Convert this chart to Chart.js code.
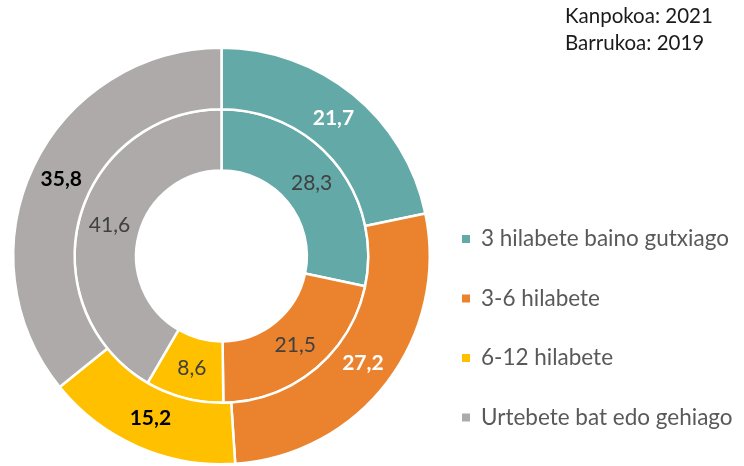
<!DOCTYPE html>
<html>
<head>
<meta charset="utf-8">
<script src="https://cdn.jsdelivr.net/npm/chart.js@4"></script>
<style>
  html, body { margin: 0; padding: 0; background: #fff; }
  #wrap { width: 744px; height: 466px; position: relative; }
</style>
</head>
<body>
<div id="wrap"><canvas id="myChart"></canvas></div>
<script>
(function () {
    "use strict";

    var categories = ['3 hilabete baino gutxiago', '3-6 hilabete', '6-12 hilabete', 'Urtebete bat edo gehiago'];
    var values2021 = [21.7, 27.2, 15.2, 35.8];   // outer ring
    var values2019 = [28.3, 21.5, 8.6, 41.6];    // inner ring
    var titleLines = ['Kanpokoa: 2021', 'Barrukoa: 2019'];

    var colors = ['#63a9a7', '#eb832e', '#ffc000', '#aeaaaa'];
    var outerLabelColors = ['#ffffff', '#ffffff', '#000000', '#000000'];
    var fontFamily = 'Lato, "Open Sans", sans-serif';

    function fmt(v) {
        return v.toFixed(1).replace('.', ',');
    }

    // draws values on the arcs, the legend and the year note
    var extras = {
        id: 'extras',
        afterDatasetsDraw: function (chart) {
            var ctx = chart.ctx;
            ctx.save();
            ctx.textAlign = 'center';
            ctx.textBaseline = 'middle';
            chart.data.datasets.forEach(function (ds, di) {
                var meta = chart.getDatasetMeta(di);
                meta.data.forEach(function (arc, i) {
                    var p = arc.tooltipPosition();
                    if (di === 0) {
                        ctx.font = 'bold 21px ' + fontFamily;
                        ctx.fillStyle = outerLabelColors[i];
                    } else {
                        ctx.font = '21px ' + fontFamily;
                        ctx.fillStyle = '#404040';
                    }
                    ctx.fillText(fmt(ds.data[i]), p.x, p.y);
                });
            });

            // legend
            ctx.textAlign = 'left';
            ctx.font = '22.5px ' + fontFamily;
            chart.data.labels.forEach(function (lab, i) {
                var y = 239 + i * 59.5;
                ctx.fillStyle = colors[i];
                ctx.fillRect(462, y - 4, 8, 8);
                ctx.fillStyle = '#595959';
                ctx.fillText(lab, 481, y);
            });

            // years note
            ctx.fillStyle = '#1a1a1a';
            ctx.font = '20.5px ' + fontFamily;
            titleLines.forEach(function (t, i) {
                ctx.fillText(t, 565, 16 + i * 27);
            });
            ctx.restore();
        }
    };

    var ctx = document.getElementById('myChart').getContext('2d');
    var chart = new Chart(ctx, {
        type: 'doughnut',
        data: {
            labels: categories,
            datasets: [{
                    label: '2021',
                    data: values2021,
                    backgroundColor: colors,
                    borderColor: '#ffffff',
                    borderWidth: 2.5
                },
                {
                    label: '2019',
                    data: values2019,
                    backgroundColor: colors,
                    borderColor: '#ffffff',
                    borderWidth: 2.5
                }
            ]
        },
        options: {
            responsive: true,
            maintainAspectRatio: false,
            animation: false,
            cutout: '41%',
            layout: {
                padding: { left: 12, right: 313, top: 46, bottom: 0 }
            },
            plugins: {
                legend: { display: false },
                tooltip: { enabled: false }
            }
        },
        plugins: [extras]
    });
})();
</script>
</body>
</html>
